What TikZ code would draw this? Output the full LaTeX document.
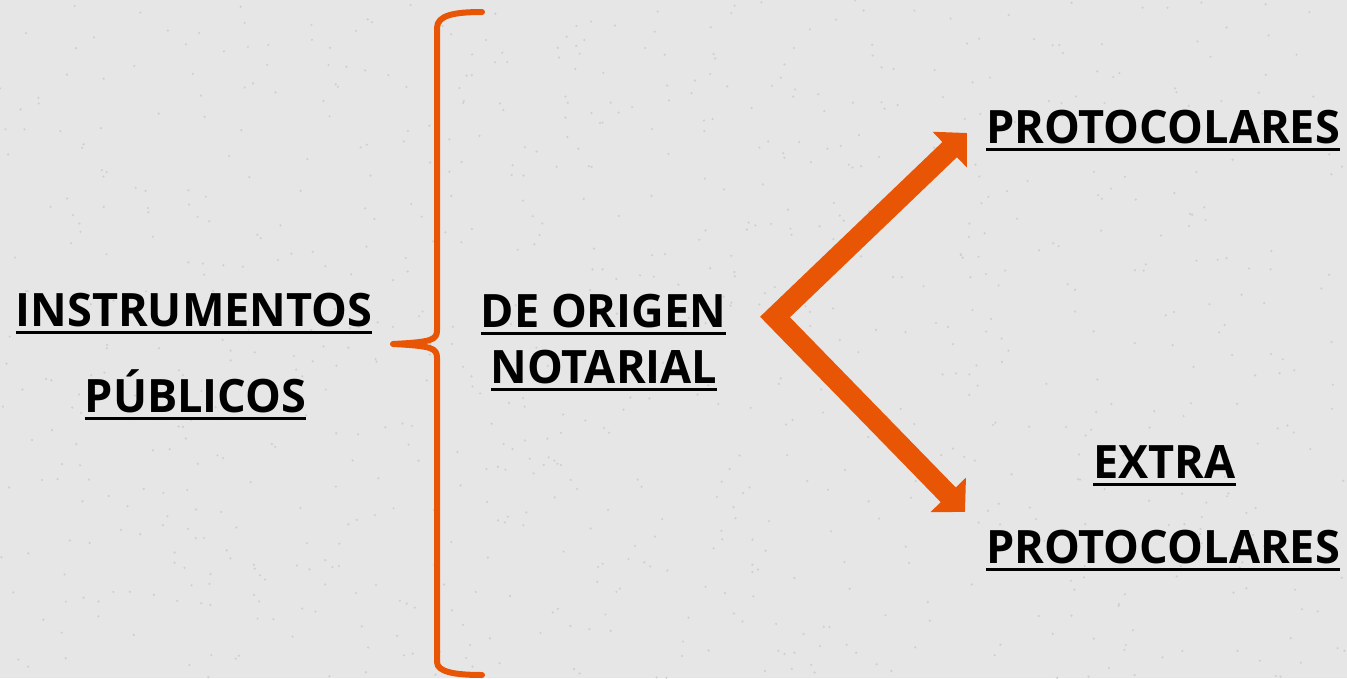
\documentclass[tikz,border=0pt]{standalone}
\usepackage{fontspec}
\setmainfont{Open Sans}[FakeStretch=0.98]
\usetikzlibrary{arrows.meta}
\definecolor{bgc}{HTML}{E6E6E6}
\definecolor{speck}{HTML}{CFCFCF}
\definecolor{org}{HTML}{E85605}
\newcommand{\ulx}[1]{\setbox0\hbox{#1}\rlap{\vrule height -5pt depth 8pt width \wd0}\box0}
\tikzset{
  lbl/.style={anchor=base, inner sep=0pt, font=\fontsize{46}{50}\selectfont\bfseries, text=black},
  bigarrow/.style={draw=org, line width=21pt, line join=miter, {Triangle[length=24pt,width=48pt]}-{Triangle[length=24pt,width=48pt]}},
  bracestyle/.style={draw=org, line width=6pt, line cap=round, line join=round}
}
\begin{document}
\begin{tikzpicture}[x=1pt,y=-1pt]
\fill[bgc] (0,0) rectangle (1347,678);
\useasboundingbox (0,0) rectangle (1347,678);
% background speckle texture
\pgfmathsetseed{7}
\foreach \i in {1,...,900}{
  \pgfmathsetmacro{\px}{rnd*1347}
  \pgfmathsetmacro{\py}{rnd*678}
  \fill[speck] (\px,\py) circle (1.2pt);
}
% brace
\draw[bracestyle] (482,12) .. controls (455,12) and (437,15) .. (437,28) -- (437,330)
  .. controls (437,340) and (432,342) .. (393,344)
  .. controls (432,346) and (437,348) .. (437,358) -- (437,662)
  .. controls (437,672) and (455,675) .. (482,675);
% texts
\node[lbl] (ins) at (194,326) {\ulx{INSTRUMENTOS}};
\node[lbl] (pub) at (195.5,412) {\ulx{PÚBLICOS}};
\node[lbl] (de) at (603.5,327) {\ulx{DE ORIGEN}};
\node[lbl] (not) at (604,383) {\ulx{NOTARIAL}};
\node[lbl] (pro) at (1163,143) {\ulx{PROTOCOLARES}};
\node[lbl] (ext) at (1164.5,478) {\ulx{EXTRA}};
\node[lbl] (pro2) at (1163,563) {\ulx{PROTOCOLARES}};
% arrows
\coordinate (v) at (775,317);
\coordinate (t1) at (967,133);
\coordinate (t2) at (965,512);
\draw[bigarrow] (t1) -- (v) -- (t2);
\end{tikzpicture}
\end{document}
